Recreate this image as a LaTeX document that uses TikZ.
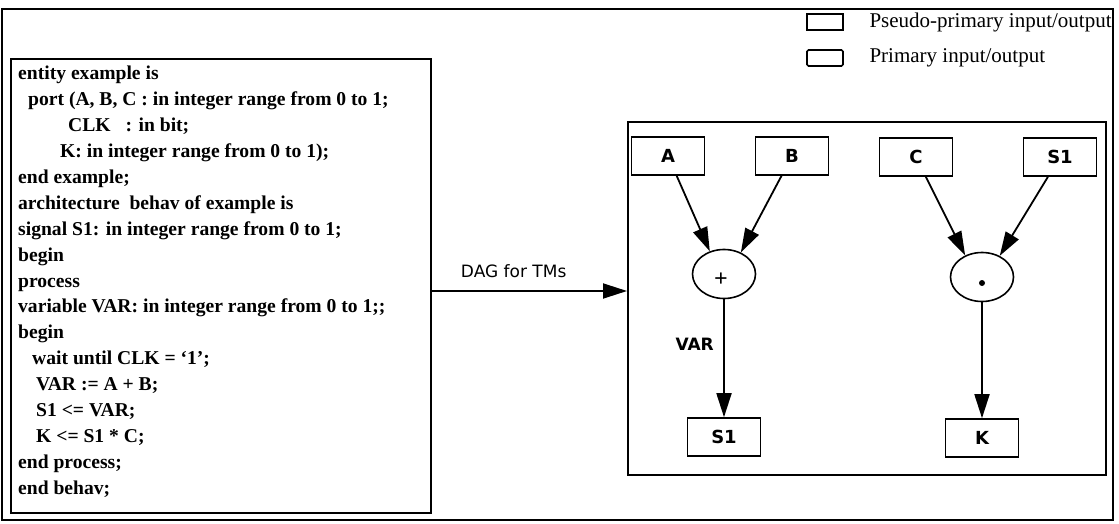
\documentclass[tikz,border=0pt]{standalone}
\usepackage{fontspec}
\setmainfont{Liberation Serif}
\setsansfont{DejaVu Sans}
\usetikzlibrary{arrows.meta,shapes.geometric}

\tikzset{
  frame/.style={draw, line width=1.6pt},
  iobox/.style={draw, line width=1.6pt, minimum width=73pt, minimum height=38pt,
    inner sep=0pt, font=\sffamily\bfseries\fontsize{18}{18}\selectfont},
  opnode/.style={draw, ellipse, line width=1.6pt, minimum width=63pt, minimum height=49pt,
    inner sep=0pt},
  flow/.style={line width=1.8pt, -{Triangle[length=24pt,width=15pt]}},
}

\begin{document}
\begin{tikzpicture}[x=1pt, y=-1pt]
    \useasboundingbox (0,0) rectangle (1119,524);

    % outer frame and legend
    \draw[frame] (2,9) rectangle (1113,520);
    \node[draw, line width=2.2pt, minimum width=36pt, minimum height=16pt] (pseudokey) at (825,22) {};
    \node[draw, line width=1.6pt, rounded corners=1.5pt, minimum width=36pt, minimum height=16pt] (primkey) at (825,58) {};
    \node[anchor=west, font=\fontsize{21}{21}\selectfont] at (866,22) {Pseudo-primary input/output};
    \node[anchor=west, font=\fontsize{21}{21}\selectfont] at (866,58) {Primary input/output};

    % VHDL source
    \node[frame, anchor=north west, minimum width=420pt, minimum height=454pt] (codebox) at (10,58) {};
    \node[anchor=north west, align=left, inner sep=0pt,
          font=\bfseries\fontsize{19.6}{25.9}\selectfont] (code) at (18,66) {%
      entity example is\\
      \hspace*{10pt}port (A, B, C : in integer range from 0 to 1;\\
      \hspace*{50pt}CLK\hspace*{10pt} : in bit;\\
      \hspace*{42pt}K: in integer range from 0 to 1);\\
      end example;\\
      architecture\ \ behav of example is\\
      signal S1: in integer range from 0 to 1;\\
      begin\\
      process\\
      variable VAR: in integer range from 0 to 1;;\\
      begin\\
      \hspace*{14pt}wait until CLK = `1';\\
      \hspace*{18pt}VAR := A + B;\\
      \hspace*{18pt}S1 <= VAR;\\
      \hspace*{18pt}K <= S1 * C;\\
      end process;\\
      end behav;};

    % DAG
    \node[frame, anchor=north west, minimum width=478pt, minimum height=353pt] (dagbox) at (627,121) {};
    \node[iobox] (A) at (668,156) {A};
    \node[iobox] (B) at (792,156) {B};
    \node[iobox] (C) at (916,157) {C};
    \node[iobox] (S1in) at (1060,157) {S1};
    \node[opnode] (plus) at (724,274) {};
    \node[font=\bfseries\fontsize{24}{24}\selectfont] (plussign) at (721,280) {+};
    \node[opnode] (times) at (982,277) {};
    \node[circle, fill, inner sep=0pt, minimum size=6pt] (timesdot) at (982,283) {};
    \node[iobox] (S1out) at (724,437) {S1};
    \node[iobox] (K) at (982,438) {K};

    \draw[flow] (A) -- (plus.122);
    \draw[flow] (B) -- (plus.52);
    \draw[flow] (C) -- (times.128);
    \draw[flow] (S1in) -- (times.50);
    \draw[flow] (plus) -- (S1out) node[pos=0.38, left=6pt, font=\sffamily\bfseries\fontsize{17}{17}\selectfont] {VAR};
    \draw[flow] (times) -- (K);

    % translation arrow
    \draw[flow] (codebox.east |- 0,291) -- (dagbox.west |- 0,291)
        node[pos=0.42, above=9pt, font=\sffamily\fontsize{17}{17}\selectfont] {DAG for TMs};
\end{tikzpicture}
\end{document}
